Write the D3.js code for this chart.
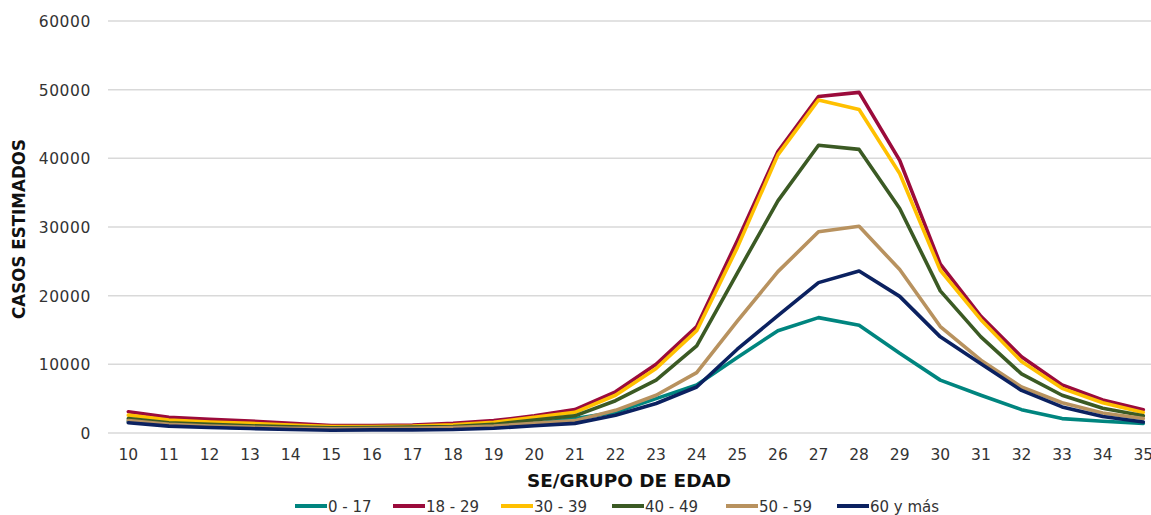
<!DOCTYPE html>
<html>
<head>
<meta charset="utf-8">
<script src="https://cdn.jsdelivr.net/npm/d3@7"></script>
<style>
  html, body { margin: 0; padding: 0; background: #fff; }
  svg { display: block; }
</style>
</head>
<body>
<div id="chart"></div>
<script>
// ---- data ----
const weeks = [10,11,12,13,14,15,16,17,18,19,20,21,22,23,24,25,26,27,28,29,30,31,32,33,34,35];
const yTicks = [0,10000,20000,30000,40000,50000,60000];
const seriesNames = ["0 - 17","18 - 29","30 - 39","40 - 49","50 - 59","60 y más"];
const seriesColors = ["#00857f","#9b0b3b","#ffc000","#3b5a24","#b8925f","#0b2160"];
const g0_17  = [1700,1150,900,750,650,550,600,650,750,950,1400,2100,3000,5000,7000,11000,14900,16800,15700,11600,7700,5500,3400,2100,1700,1400];
const g18_29 = [3100,2300,2000,1750,1400,1100,1100,1150,1400,1800,2500,3400,6000,10000,15500,28000,41000,49000,49600,39700,24600,17000,11100,7000,4800,3400];
const g30_39 = [2600,1900,1600,1400,1150,950,950,1000,1200,1550,2300,3000,5500,9400,14900,27000,40500,48500,47100,37800,23700,16500,10400,6500,4400,3000];
const g40_49 = [2100,1500,1250,1050,900,750,800,850,950,1250,1900,2500,4700,7700,12700,23300,33800,41900,41300,32700,20700,14000,8600,5500,3600,2500];
const g50_59 = [1800,1250,1000,850,700,600,650,700,800,1000,1400,1800,3300,5500,8800,16300,23500,29300,30100,23800,15500,10600,6700,4400,2900,2100];
const g60    = [1500,1000,800,650,500,400,450,450,500,700,1050,1400,2600,4300,6700,12200,17100,21900,23600,19900,14000,10100,6200,3800,2400,1600];
const seriesValues = [g0_17, g18_29, g30_39, g40_49, g50_59, g60];
const yTitle = "CASOS ESTIMADOS";
const xTitle = "SE/GRUPO DE EDAD";

// ---- layout ----
const W = 1151, H = 515;
const plotLeft = 108, bandW = 40.6;
const plotTop = 21, plotBottom = 433;
const font = "'DejaVu Sans', sans-serif";

const svg = d3.select("#chart").append("svg")
  .attr("width", W).attr("height", H);

const x = d3.scaleBand().domain(weeks).range([plotLeft, plotLeft + bandW * weeks.length]).padding(0);
const y = d3.scaleLinear().domain([0, 60000]).range([plotBottom, plotTop]);

// gridlines
svg.append("g").selectAll("line").data(yTicks).join("line")
  .attr("x1", plotLeft).attr("x2", plotLeft + bandW * weeks.length)
  .attr("y1", d => y(d)).attr("y2", d => y(d))
  .attr("stroke", "#d9d9d9").attr("stroke-width", 1.5);

// y axis labels
const yAxis = svg.append("g").attr("transform", `translate(${plotLeft - 17},0)`)
  .call(d3.axisLeft(y).tickValues(yTicks).tickSize(0).tickPadding(0).tickFormat(d3.format("d")));
yAxis.select(".domain").remove();
yAxis.selectAll("text").attr("font-family", font).attr("font-size", 15.5)
  .attr("fill", "#333").attr("letter-spacing", 0.6).attr("dy", "0.36em");

// x axis labels
const xAxis = svg.append("g").attr("transform", `translate(0,${plotBottom + 12})`)
  .call(d3.axisBottom(x).tickSize(0).tickPadding(0));
xAxis.select(".domain").remove();
xAxis.selectAll("text").attr("font-family", font).attr("font-size", 15.5)
  .attr("fill", "#333").attr("dy", "0.95em");

// lines
const line = d3.line()
  .x((d, i) => x(weeks[i]) + x.bandwidth() / 2)
  .y(d => y(d));

svg.append("g").selectAll("path").data(seriesValues).join("path")
  .attr("d", d => line(d))
  .attr("fill", "none")
  .attr("stroke", (d, i) => seriesColors[i])
  .attr("stroke-width", 3.6)
  .attr("stroke-linejoin", "round")
  .attr("stroke-linecap", "round");

// axis titles
svg.append("text")
  .attr("transform", `translate(25,${(plotTop + plotBottom) / 2 + 2}) rotate(-90)`)
  .attr("text-anchor", "middle")
  .attr("font-family", font).attr("font-weight", "bold").attr("font-size", 17)
  .attr("fill", "#111")
  .attr("textLength", 180).attr("lengthAdjust", "spacingAndGlyphs")
  .text(yTitle);

svg.append("text")
  .attr("x", 629).attr("y", 487)
  .attr("text-anchor", "middle")
  .attr("font-family", font).attr("font-weight", "bold").attr("font-size", 18)
  .attr("fill", "#111")
  .attr("textLength", 204).attr("lengthAdjust", "spacingAndGlyphs")
  .text(xTitle);

// legend
const legendX = [295, 393, 501, 612, 726, 837];
const lg = svg.append("g").selectAll("g").data(seriesNames).join("g")
  .attr("transform", (d, i) => `translate(${legendX[i]},506)`);
lg.append("line").attr("x1", 0).attr("x2", 32).attr("y1", 0).attr("y2", 0)
  .attr("stroke", (d, i) => seriesColors[i]).attr("stroke-width", 4);
lg.append("text").attr("x", 33).attr("y", 5.5)
  .attr("font-family", font).attr("font-size", 15).attr("fill", "#333")
  .text(d => d);
</script>
</body>
</html>
